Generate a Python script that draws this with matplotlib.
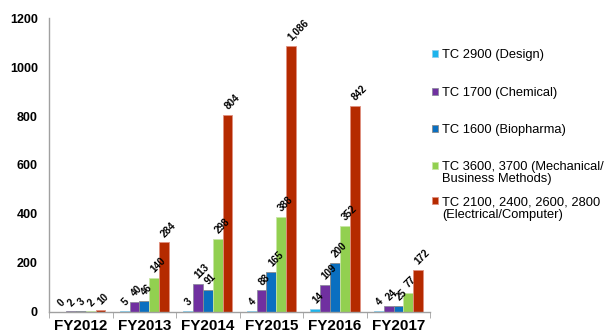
import matplotlib.pyplot as plt
import numpy as np
from matplotlib.patches import Rectangle

years = ['FY2012', 'FY2013', 'FY2014', 'FY2015', 'FY2016', 'FY2017']
series_names = ['TC 2900 (Design)',
                'TC 1700 (Chemical)',
                'TC 1600 (Biopharma)',
                'TC 3600, 3700 (Mechanical/\nBusiness Methods)',
                'TC 2100, 2400, 2600, 2800\n(Electrical/Computer)']
design = [0, 5, 3, 4, 14, 4]
chemical = [2, 40, 113, 88, 109, 24]
biopharma = [3, 46, 91, 165, 200, 25]
mechanical = [2, 140, 298, 388, 352, 77]
electrical = [10, 284, 804, 1086, 842, 172]
y_ticks = [0, 200, 400, 600, 800, 1000, 1200]

colors = ['#1CB4EC', '#7030A0', '#0A6FC0', '#92D050', '#B52A00']
edges = ['#8fd0ee', '#8e8a9e', '#8c8c8c', '#c8e6a6', '#e09080']

plt.rcParams['font.family'] = ['Liberation Sans', 'DejaVu Sans']

fig = plt.figure(figsize=(6.09, 3.34), dpi=100)
ax = fig.add_axes([0.0805, 0.066, 0.626, 0.88])

x = np.arange(len(years))
width = 0.155
all_series = [design, chemical, biopharma, mechanical, electrical]
for i, vals in enumerate(all_series):
    pos = x + (i - 2) * width
    ax.bar(pos, vals, width, color=colors[i], edgecolor=edges[i], linewidth=0.6, zorder=2)
    for px, v in zip(pos, vals):
        ax.annotate(f'{v:,}', (px, v), xytext=(1.5, 2.5), textcoords='offset points',
                    rotation=45, rotation_mode='anchor', ha='left', va='bottom',
                    fontsize=7.2, fontweight='bold', color='black')

ax.set_xlim(-0.5, len(years) - 0.5)
ax.set_ylim(0, 1200)
ax.set_yticks(y_ticks)
ax.set_yticklabels([str(t) for t in y_ticks], fontsize=9, fontweight='bold')
ax.tick_params(axis='y', length=0, pad=8)

ax.set_xticks(x)
ax.set_xticklabels(years, fontsize=11, fontweight='bold')
ax.tick_params(axis='x', which='major', length=0, pad=5)
ax.set_xticks(np.arange(-0.5, len(years)), minor=True)
ax.tick_params(axis='x', which='minor', length=4, direction='out', color='#a0a0a0')

for side in ['top', 'right']:
    ax.spines[side].set_visible(False)
for side in ['left', 'bottom']:
    ax.spines[side].set_color('#a0a0a0')
    ax.spines[side].set_linewidth(1.0)

# legend drawn by hand so the swatch sits on the first text line
legend_rows = [0.838, 0.725, 0.614, 0.503, 0.398]
for name, c, e, ry in zip(series_names, colors, edges, legend_rows):
    fig.patches.append(Rectangle((0.709, ry - 0.009), 0.011, 0.02, transform=fig.transFigure,
                                 facecolor=c, edgecolor=e, linewidth=0.6))
    fig.text(0.726, ry + 0.015, name, fontsize=9.3, va='top', ha='left', linespacing=1.05)

fig.savefig('out.png', dpi=100)
